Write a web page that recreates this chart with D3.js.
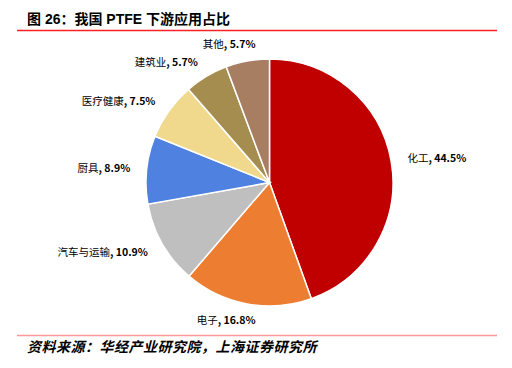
<!DOCTYPE html>
<html>
<head>
<meta charset="utf-8">
<script src="https://cdn.jsdelivr.net/npm/d3@7"></script>
<style>
  body { margin: 0; background: #fff; }
  text { font-family: "Noto Sans CJK SC", "DejaVu Sans", sans-serif; }
</style>
</head>
<body>
<svg width="512" height="368"></svg>
<script>
// data
var categories = ['化工', '电子', '汽车与运输', '厨具', '医疗健康', '建筑业', '其他'];
var shares = [44.5, 16.8, 10.9, 8.9, 7.5, 5.7, 5.7];
var colors = ['#C00000', '#ED7D31', '#BFBFBF', '#4F81E0', '#F0D98C', '#A58C4F', '#A87E62'];

var svg = d3.select('svg');
var cx = 269.5, cy = 182.5, radius = 123.5;

// title + rules
svg.append('text')
    .attr('x', 27).attr('y', 24)
    .style('font-size', '14px').style('font-weight', 'bold')
    .style('font-family', '"Liberation Sans", "Noto Sans CJK SC", sans-serif')
    .text('图 26：我国 PTFE 下游应用占比');

svg.append('line')
    .attr('x1', 17).attr('x2', 497).attr('y1', 30.5).attr('y2', 30.5)
    .style('stroke', '#FF2020').style('stroke-width', 1.5);

svg.append('line')
    .attr('x1', 17).attr('x2', 497).attr('y1', 335.5).attr('y2', 335.5)
    .style('stroke', '#FF9999').style('stroke-width', 1.5);

svg.append('text')
    .attr('x', 27).attr('y', 352)
    .style('font-size', '14px').style('font-style', 'italic').style('font-weight', 'bold')
    .style('letter-spacing', '0.5px')
    .text('资料来源：华经产业研究院，上海证券研究所');

var data = categories.map(function(c, i) { return {name: c, value: shares[i], color: colors[i]}; });

var pie = d3.pie().sort(null).value(d => d.value);
var arc = d3.arc().innerRadius(0).outerRadius(radius);
var labelArc = d3.arc().innerRadius(140).outerRadius(140);

var g = svg.append('g').attr('transform', 'translate(' + [cx, cy] + ')');

var arcs = pie(data);

g.selectAll('.slice')
    .data(arcs)
    .enter()
    .append('path')
    .attr('class', 'slice')
    .attr('d', arc)
    .style('fill', d => d.data.color)
    .style('stroke', '#fff')
    .style('stroke-width', 1.5);

var labels = g.selectAll('.label')
    .data(arcs)
    .enter()
    .append('text')
    .attr('class', 'label')
    .style('font-size', '10.5px')
    .attr('dy', '0.35em')
    .attr('transform', function(d) {
        var p = labelArc.centroid(d);
        var mid = (d.startAngle + d.endAngle) / 2;
        if (mid > Math.PI * 0.9 && mid < Math.PI * 1.1) p[0] -= 18;   // bottom label
        if (mid > Math.PI * 1.85) p[0] += 11;                         // near the top
        return 'translate(' + p + ')';
    })
    .attr('text-anchor', function(d) {
        var mid = (d.startAngle + d.endAngle) / 2;
        if (mid > Math.PI * 0.9 && mid < Math.PI * 1.1) return 'middle';
        return mid < Math.PI ? 'start' : 'end';
    });

labels.append('tspan').text(d => d.data.name);
labels.append('tspan').style('font-weight', 'bold').text(d => ', ' + d.data.value.toFixed(1) + '%');
</script>
</body>
</html>
